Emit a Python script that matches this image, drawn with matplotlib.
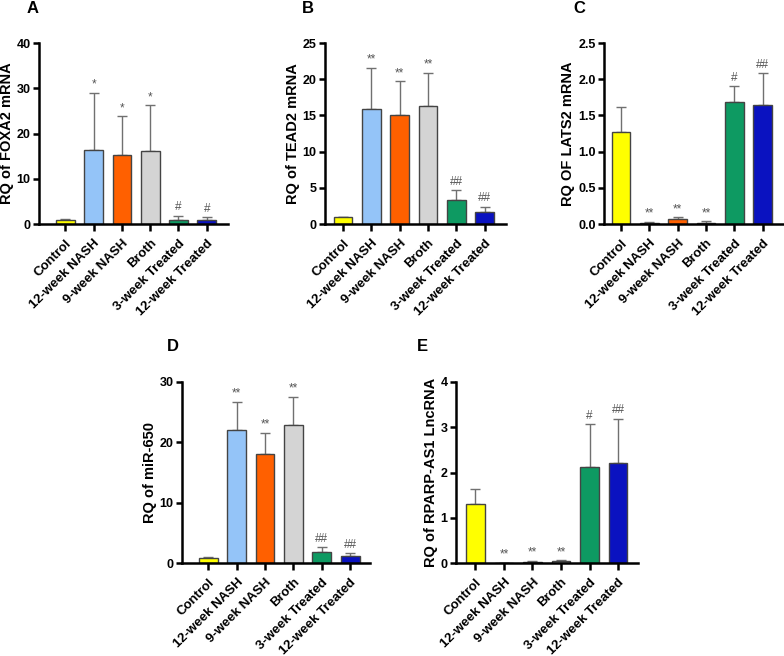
import matplotlib
matplotlib.use("Agg")
import matplotlib.pyplot as plt
import numpy as np

plt.rcParams['font.family'] = ['Liberation Sans', 'DejaVu Sans']

categories = ["Control", "12-week NASH", "9-week NASH", "Broth", "3-week Treated", "12-week Treated"]
colors = ["#FFFF00", "#94C4F8", "#FF6000", "#D4D4D4", "#0E9A62", "#0A12C0"]

foxa2_mean = [0.9, 16.4, 15.3, 16.1, 0.9, 0.9]
foxa2_err = [0.1, 12.6, 8.5, 10.1, 0.95, 0.65]
foxa2_sig = ["", "*", "*", "*", "#", "#"]

tead2_mean = [0.9, 15.9, 15.1, 16.3, 3.3, 1.6]
tead2_err = [0.05, 5.7, 4.6, 4.6, 1.4, 0.8]
tead2_sig = ["", "**", "**", "**", "##", "##"]

lats2_mean = [1.27, 0.015, 0.065, 0.02, 1.68, 1.64]
lats2_err = [0.35, 0.015, 0.025, 0.015, 0.23, 0.44]
lats2_sig = ["", "**", "**", "**", "#", "##"]

mir650_mean = [0.9, 22.0, 18.0, 22.9, 1.9, 1.2]
mir650_err = [0.05, 4.7, 3.6, 4.6, 0.7, 0.4]
mir650_sig = ["", "**", "**", "**", "##", "##"]

rparp_mean = [1.30, 0.005, 0.02, 0.035, 2.13, 2.22]
rparp_err = [0.34, 0.005, 0.025, 0.025, 0.94, 0.97]
rparp_sig = ["", "**", "**", "**", "#", "##"]

panels = [
    ("A", "RQ of FOXA2 mRNA", foxa2_mean, foxa2_err, foxa2_sig, 40, 10, "{:.0f}",
     [39/784, 1-224/656, (228-39)/784, (224-43)/656], (-0.93, 5.75), (27/784, 1-16/656)),
    ("B", "RQ of TEAD2 mRNA", tead2_mean, tead2_err, tead2_sig, 25, 5, "{:.0f}",
     [325/784, 1-224/656, (506-325)/784, (224-43)/656], (-0.63, 5.75), (302/784, 1-16/656)),
    ("C", "RQ OF LATS2 mRNA", lats2_mean, lats2_err, lats2_sig, 2.5, 0.5, "{:.1f}",
     [604/784, 1-224/656, (784-604)/784, (224-43)/656], (-0.6, 5.75), (573/784, 1-16/656)),
    ("D", "RQ of miR-650", mir650_mean, mir650_err, mir650_sig, 30, 10, "{:.0f}",
     [182/784, 1-563/656, (370-182)/784, (563-382)/656], (-0.93, 5.7), (167/784, 1-354/656)),
    ("E", "RQ of RPARP-AS1 LncRNA", rparp_mean, rparp_err, rparp_sig, 4, 1, "{:.0f}",
     [456/784, 1-563/656, (638-456)/784, (563-382)/656], (-0.68, 5.7), (417/784, 1-354/656)),
]

fig = plt.figure(figsize=(7.84, 6.56), dpi=100)

for letter, ylabel, mean, err, sig, ymax, ystep, fmt, rect, xl, lpos in panels:
    ax = fig.add_axes(rect)
    x = np.arange(len(categories))
    ax.bar(x, mean, width=0.66, color=colors, edgecolor="#444444", linewidth=1.0, zorder=2)
    ax.errorbar(x, mean, yerr=[np.zeros(len(err)), err], fmt="none", ecolor="#707070",
                elinewidth=1.0, capsize=3.6, capthick=1.0, zorder=1)
    for xi, m, e, s in zip(x, mean, err, sig):
        if s:
            ax.text(xi, m + e + ymax * 0.012, s, ha="center", va="bottom", fontsize=8.5,
                    color="#555555")
    ax.set_ylim(0, ymax)
    ax.set_xlim(*xl)
    yt = np.arange(0, ymax + ystep / 2, ystep)
    ax.set_yticks(yt)
    ax.set_yticklabels([fmt.format(v) for v in yt], fontsize=9, fontweight="bold")
    ax.set_xticks(x)
    ax.set_xticklabels(categories, rotation=45, ha="right", va="top", rotation_mode="anchor",
                       fontsize=9.5, fontweight="bold")
    ax.set_ylabel(ylabel, fontsize=10.5, fontweight="bold", labelpad=2)
    for sp in ["top", "right"]:
        ax.spines[sp].set_visible(False)
    for sp in ["left", "bottom"]:
        ax.spines[sp].set_linewidth(1.8)
        ax.spines[sp].set_color("black")
    ax.tick_params(axis="y", width=1.8, length=4.5, direction="out", pad=1.5)
    ax.tick_params(axis="x", width=1.8, length=5, direction="out", pad=4.5)
    fig.text(lpos[0], lpos[1], letter, fontsize=12, fontweight="bold", ha="left", va="bottom")

fig.savefig("out.png", dpi=100)
